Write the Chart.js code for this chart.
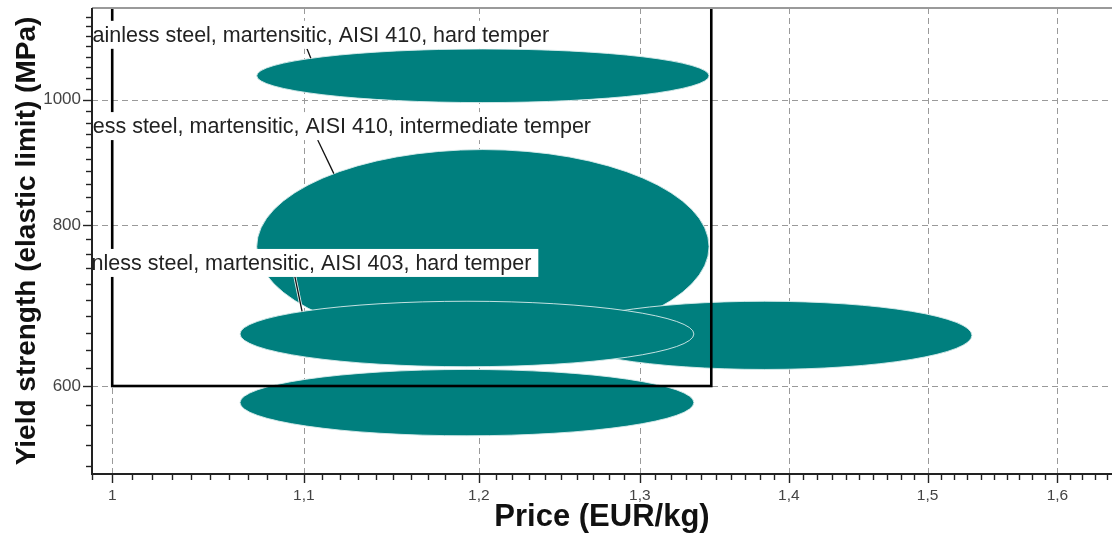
<!DOCTYPE html>
<html>
<head>
<meta charset="utf-8">
<script src="https://cdn.jsdelivr.net/npm/chart.js@4.4.0/dist/chart.umd.min.js"></script>
<style>
  html, body { margin: 0; padding: 0; background: #fff; }
</style>
</head>
<body>
<canvas id="selectionChart" width="1112" height="538"></canvas>
<script>
// materials, in the order they are listed
const materials = [
    'Stainless steel, martensitic, AISI 410, hard temper',
    'Stainless steel, martensitic, AISI 410, intermediate temper',
    'Stainless steel, martensitic, AISI 403, hard temper',
    'Stainless steel, martensitic, AISI 416, hard temper',
    'Stainless steel, martensitic, AISI 403, intermediate temper'
];
const priceLow = [1.0745, 1.0745, 1.0656, 1.2478, 1.0656];
const priceHigh = [1.3455, 1.3455, 1.3354, 1.5334, 1.3354];
const strengthLow = [995, 647, 621, 618, 549];
const strengthHigh = [1095, 915, 698, 698, 618];

const priceTicks = [1, 1.1, 1.2, 1.3, 1.4, 1.5, 1.6];
const strengthTicks = [600, 800, 1000];

// selection box (price max, strength min)
const boxPrice = [1.0, 1.347];
const boxStrength = [600, 5000];

const drawOrder = [1, 3, 4, 2, 0];
const fillColor = '#007f7e';
const fontFamily = '"Liberation Sans", Arial, Helvetica, sans-serif';

// label placement: text right end / baseline in data units, leader from/to price
const labels = [
    { idx: 0, price: 1.2426, strength: 1109, from: 1.1017, to: 1.1038 },
    { idx: 1, price: 1.2688, strength: 942.3, from: 1.1076, to: 1.1165 },
    { idx: 2, price: 1.2317, strength: 738.1, from: 1.0951, to: 1.0990 }
];

function range(a, b, step) {
    const out = [];
    for (let v = a; v <= b + 1e-9; v += step) out.push(Math.round(v * 1000) / 1000);
    return out;
}
const priceMinor = range(0.99, 1.64, 0.01);
const strengthMinor = range(520, 1160, 20);

function ellipseOf(xs, ys, i) {
    const x1 = xs.getPixelForValue(priceLow[i]);
    const x2 = xs.getPixelForValue(priceHigh[i]);
    const y1 = ys.getPixelForValue(strengthHigh[i]);
    const y2 = ys.getPixelForValue(strengthLow[i]);
    return { cx: (x1 + x2) / 2, cy: (y1 + y2) / 2, a: (x2 - x1) / 2, b: (y2 - y1) / 2 };
}

const selectorPlugin = {
    id: 'selector',
    afterDatasetsDraw(chart) {
        const ctx = chart.ctx;
        const area = chart.chartArea;
        const xs = chart.scales.x;
        const ys = chart.scales.y;

        ctx.save();
        // grid
        ctx.strokeStyle = '#9a9a9a';
        ctx.lineWidth = 1;
        ctx.setLineDash([6, 4]);
        priceTicks.forEach(v => {
            const x = Math.round(xs.getPixelForValue(v)) + 0.5;
            ctx.beginPath(); ctx.moveTo(x, area.top); ctx.lineTo(x, area.bottom); ctx.stroke();
        });
        strengthTicks.forEach(v => {
            const y = Math.round(ys.getPixelForValue(v)) + 0.5;
            ctx.beginPath(); ctx.moveTo(area.left, y); ctx.lineTo(area.right, y); ctx.stroke();
        });
        ctx.setLineDash([]);

        ctx.beginPath();
        ctx.rect(area.left, area.top, area.right - area.left, area.bottom - area.top);
        ctx.clip();

        // ellipses
        drawOrder.forEach(i => {
            const e = ellipseOf(xs, ys, i);
            ctx.beginPath();
            ctx.ellipse(e.cx, e.cy, e.a, e.b, 0, 0, Math.PI * 2);
            ctx.fillStyle = fillColor;
            ctx.fill();
            ctx.strokeStyle = 'rgba(215,235,235,0.9)';
            ctx.lineWidth = 1;
            ctx.stroke();
        });

        // selection box
        const bx1 = xs.getPixelForValue(boxPrice[0]);
        const bx2 = xs.getPixelForValue(boxPrice[1]);
        const by1 = ys.getPixelForValue(boxStrength[1]);
        const by2 = ys.getPixelForValue(boxStrength[0]);
        ctx.strokeStyle = '#000';
        ctx.lineWidth = 2.6;
        ctx.strokeRect(bx1, by1, bx2 - bx1, by2 - by1);

        // labels
        ctx.font = '21.5px ' + fontFamily;
        ctx.textAlign = 'right';
        ctx.textBaseline = 'alphabetic';
        labels.forEach(l => {
            const tx = xs.getPixelForValue(l.price);
            const ty = ys.getPixelForValue(l.strength);
            const w = ctx.measureText(materials[l.idx]).width;
            const boxBottom = ty + 7;
            // leader
            const e = ellipseOf(xs, ys, l.idx);
            const lx1 = xs.getPixelForValue(l.from);
            const lx2 = xs.getPixelForValue(l.to);
            const t = (lx2 - e.cx) / e.a;
            const ly2 = e.cy - e.b * Math.sqrt(Math.max(0, 1 - t * t));
            ctx.beginPath(); ctx.moveTo(lx1, boxBottom); ctx.lineTo(lx2, ly2);
            ctx.strokeStyle = 'rgba(255,255,255,0.9)'; ctx.lineWidth = 3; ctx.stroke();
            ctx.strokeStyle = '#111'; ctx.lineWidth = 1.3; ctx.stroke();
            // box + text
            ctx.fillStyle = '#fff';
            ctx.fillRect(tx - w - 7, ty - 21, w + 14, 28);
            ctx.fillStyle = '#222';
            ctx.fillText(materials[l.idx], tx, ty);
        });
        ctx.restore();

        // axes frame
        ctx.save();
        ctx.strokeStyle = '#9a9a9a';
        ctx.lineWidth = 2;
        ctx.beginPath(); ctx.moveTo(area.left, area.top); ctx.lineTo(area.right, area.top); ctx.stroke();
        ctx.strokeStyle = '#222';
        ctx.beginPath();
        ctx.moveTo(area.left, area.top); ctx.lineTo(area.left, area.bottom); ctx.lineTo(area.right, area.bottom);
        ctx.stroke();
        ctx.lineWidth = 1.4;
        priceMinor.forEach(v => {
            const x = Math.round(xs.getPixelForValue(v)) + 0.5;
            if (x < area.left || x > area.right) return;
            const major = priceTicks.some(p => Math.abs(p - v) < 1e-6);
            ctx.beginPath(); ctx.moveTo(x, area.bottom); ctx.lineTo(x, area.bottom + (major ? 9 : 6)); ctx.stroke();
        });
        strengthMinor.forEach(v => {
            const y = Math.round(ys.getPixelForValue(v)) + 0.5;
            if (y < area.top || y > area.bottom) return;
            const major = strengthTicks.includes(v);
            ctx.beginPath(); ctx.moveTo(area.left, y); ctx.lineTo(area.left - (major ? 9 : 6), y); ctx.stroke();
        });
        ctx.restore();
    }
};

new Chart(document.getElementById('selectionChart'), {
    type: 'scatter',
    data: { datasets: [{ data: [], pointRadius: 0 }] },
    options: {
        responsive: false,
        animation: false,
        devicePixelRatio: 1,
        layout: { padding: { top: 8, left: 0, right: 0, bottom: 0 } },
        plugins: { legend: { display: false }, tooltip: { enabled: false } },
        scales: {
            x: {
                type: 'logarithmic',
                min: 0.990,
                max: 1.644,
                afterBuildTicks: s => { s.ticks = priceTicks.map(v => ({ value: v })); },
                afterFit: s => { s.height = 64; s.paddingLeft = 0; s.paddingRight = 0; },
                grid: { display: false, drawTicks: false },
                border: { display: false },
                ticks: {
                    autoSkip: false, maxRotation: 0, padding: 12, color: '#444',
                    font: { family: fontFamily, size: 15.5 },
                    callback: v => String(v).replace('.', ',')
                },
                title: {
                    display: true, text: 'Price (EUR/kg)', color: '#111',
                    font: { family: fontFamily, size: 31, weight: 'bold' },
                    padding: { top: 0, bottom: 2 }
                }
            },
            y: {
                type: 'logarithmic',
                min: 512.8,
                max: 1178,
                afterBuildTicks: s => { s.ticks = strengthTicks.map(v => ({ value: v })); },
                afterFit: s => { s.width = 92; s.paddingTop = 0; s.paddingBottom = 0; },
                grid: { display: false, drawTicks: false },
                border: { display: false },
                ticks: {
                    autoSkip: false, padding: 11, color: '#444',
                    font: { family: fontFamily, size: 17 },
                    callback: v => String(v)
                },
                title: {
                    display: true, text: 'Yield strength (elastic limit) (MPa)', color: '#111',
                    font: { family: fontFamily, size: 28, weight: 'bold' },
                    padding: { top: 10, bottom: 0 }
                }
            }
        }
    },
    plugins: [selectorPlugin]
});
</script>
</body>
</html>
